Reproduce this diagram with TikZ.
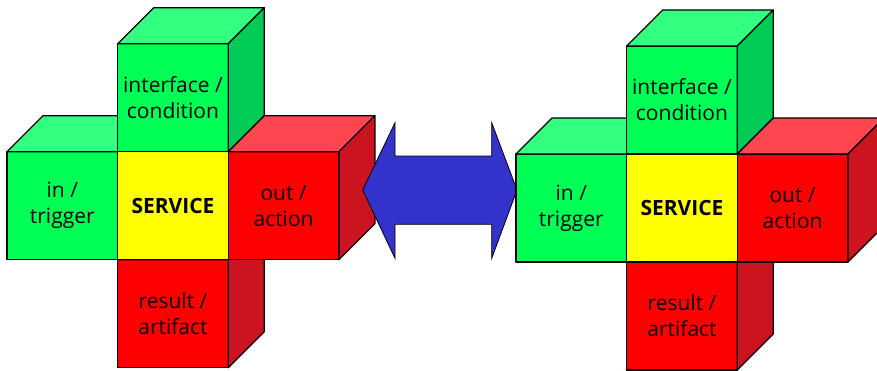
\documentclass[tikz,border=0pt]{standalone}
\usepackage{fontspec}
\setmainfont{Open Sans}
\definecolor{gfront}{HTML}{00FF55}
\definecolor{gtop}{HTML}{33FF80}
\definecolor{gside}{HTML}{00CC55}
\definecolor{rfront}{HTML}{FF0000}
\definecolor{rtop}{HTML}{FF4650}
\definecolor{rside}{HTML}{CC1420}
\definecolor{yfront}{HTML}{FFFF00}
\definecolor{arrowblue}{HTML}{3333CC}
\tikzset{
  face/.style={draw=black, line width=1.2pt, line join=round},
  frontbox/.style={face, rectangle, minimum width=110.6pt, minimum height=108pt,
    inner sep=0pt, outer sep=0pt, align=center,
    font=\fontsize{21}{26}\selectfont},
  dblarrow/.style={draw=black, line width=0.8pt, fill=arrowblue, line join=miter}
}
\newcommand{\servicecube}[6]{%
  \node[frontbox, fill=#3] (#1) at (#2) {#6};
  \draw[face, fill=#4] (#1.north west) -- ++(36,-36) -- ([shift={(36,-36)}]#1.north east) -- (#1.north east) -- cycle;
  \draw[face, fill=#5] (#1.north east) -- ++(36,-36) -- ([shift={(36,-36)}]#1.south east) -- (#1.south east) -- cycle;
}
\newcommand{\servicecross}[2]{%
  \begin{scope}[shift={(#2)}]
    \servicecube{#1in}{62.3,205.7}{gfront}{gtop}{gside}{in /\\trigger}
    \servicecube{#1if}{173,97.7}{gfront}{gtop}{gside}{interface /\\condition}
    \servicecube{#1res}{173,313.7}{rfront}{rtop}{rside}{result /\\artifact}
    \node[frontbox, fill=yfront] (#1srv) at (173,205.7) {\textbf{SERVICE}};
    \servicecube{#1out}{283.6,205.7}{rfront}{rtop}{rside}{out /\\action}
  \end{scope}
}
\begin{document}
\begin{tikzpicture}[x=1pt,y=-1pt]
\useasboundingbox (0,0) rectangle (877,370);
\clip (0,0) rectangle (877,370);
\servicecross{L}{0,0}
\coordinate (ltip) at (362.7,190);
\coordinate (rtip) at (517,190);
\draw[dblarrow] (ltip) -- (395,122.7) -- (395,156) -- (491.7,156) -- (491.7,122.7)
  -- (rtip) -- (491.7,258.3) -- (491.7,224.3) -- (395,224.3) -- (395,258.3) -- cycle;
\servicecross{R}{509,2.3}
\end{tikzpicture}
\end{document}
